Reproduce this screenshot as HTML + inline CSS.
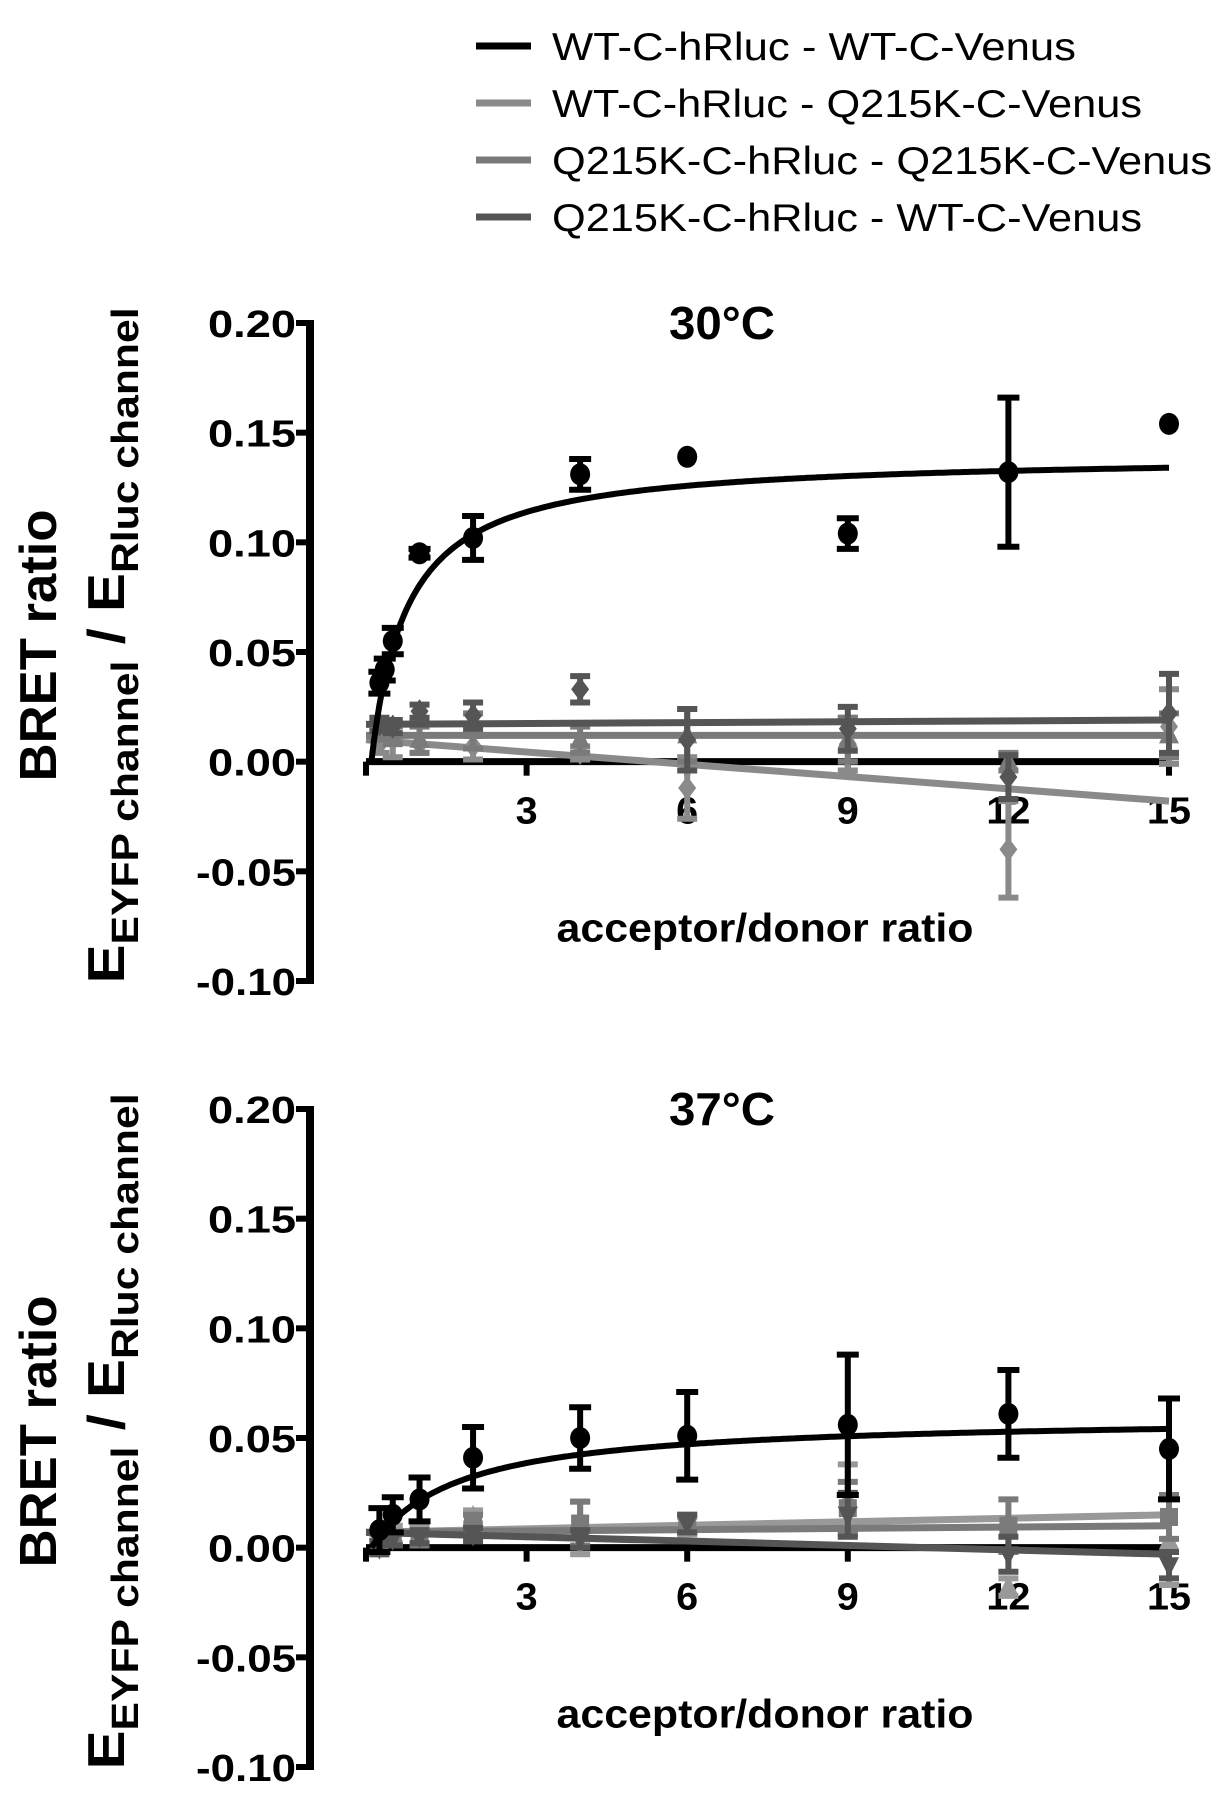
<!DOCTYPE html>
<html><head><meta charset="utf-8"><style>
html,body{margin:0;padding:0;background:#fff;}
svg{display:block;font-family:"Liberation Sans",Arial,sans-serif;}
</style></head><body>
<svg id="fig" width="1225" height="1808" viewBox="0 0 1225 1808">
<g font-size="39" fill="#000">
 <g><line x1="476" y1="46" x2="531" y2="46" stroke="#000" stroke-width="7"/><text x="552" y="60" textLength="524" lengthAdjust="spacingAndGlyphs">WT-C-hRluc - WT-C-Venus</text></g>
 <g><line x1="476" y1="103" x2="531" y2="103" stroke="#8a8a8a" stroke-width="7"/><text x="552" y="117" textLength="590" lengthAdjust="spacingAndGlyphs">WT-C-hRluc - Q215K-C-Venus</text></g>
 <g><line x1="476" y1="160" x2="531" y2="160" stroke="#7a7a7a" stroke-width="7"/><text x="552" y="174" textLength="660" lengthAdjust="spacingAndGlyphs">Q215K-C-hRluc - Q215K-C-Venus</text></g>
 <g><line x1="476" y1="217" x2="531" y2="217" stroke="#555" stroke-width="7"/><text x="552" y="231" textLength="590" lengthAdjust="spacingAndGlyphs">Q215K-C-hRluc - WT-C-Venus</text></g>
</g>
</svg>
<script>
// ---- data ----
const xTicks = [3, 6, 9, 12, 15];
const yTicks = [0.20, 0.15, 0.10, 0.05, 0.00, -0.05, -0.10];
const yTickLabels = ["0.20", "0.15", "0.10", "0.05", "0.00", "-0.05", "-0.10"];
const panelTitles = ["30°C", "37°C"];
// 30°C
const wt30X = [0.25, 0.35, 0.5, 1, 2, 4, 6, 9, 12, 15];
const wt30Y = [0.036, 0.042, 0.055, 0.095, 0.102, 0.131, 0.139, 0.104, 0.132, 0.154];
const wt30Err = [0.005, 0.005, 0.006, 0.002, 0.010, 0.007, 0.000, 0.007, 0.034, 0.000];
const wt30Fit = [0.140, 0.667]; // Bmax, Kd
const oth30X = [0.25, 0.5, 1, 2, 4, 6, 9, 12, 15];
const a30Y = [0.008, 0.010, 0.008, 0.007, 0.004, -0.012, 0.008, -0.040, 0.016];
const a30Err = [0.004, 0.008, 0.004, 0.006, 0.003, 0.014, 0.012, 0.022, 0.017];
const b30Y = [0.014, 0.012, 0.010, 0.014, 0.010, 0.012, 0.010, 0.000, 0.012];
const b30Err = [0.004, 0.004, 0.006, 0.008, 0.006, 0.012, 0.010, 0.004, 0.010];
const c30Y = [0.017, 0.016, 0.023, 0.021, 0.033, 0.010, 0.015, -0.007, 0.022];
const c30Err = [0.003, 0.003, 0.003, 0.006, 0.006, 0.014, 0.010, 0.010, 0.018];
const a30Line = [0.010, -0.018];
const b30Line = [0.012, 0.012];
const c30Line = [0.017, 0.019];
// 37°C
const wt37X = [0.25, 0.5, 1, 2, 4, 6, 9, 12, 15];
const wt37Y = [0.008, 0.015, 0.022, 0.041, 0.050, 0.051, 0.056, 0.061, 0.045];
const wt37Err = [0.010, 0.008, 0.010, 0.014, 0.014, 0.020, 0.032, 0.020, 0.023];
const wt37Fit = [0.060, 1.61];
const oth37X = [0.25, 0.5, 1, 2, 4, 6, 9, 12, 15];
const a37Y = [0.002, 0.006, 0.006, 0.014, 0.009, 0.010, 0.022, -0.018, 0.003];
const a37Err = [0.004, 0.004, 0.004, 0.003, 0.012, 0.004, 0.016, 0.004, 0.020];
const b37Y = [0.000, 0.004, 0.004, 0.012, 0.011, 0.011, 0.018, 0.010, 0.014];
const b37Err = [0.003, 0.003, 0.003, 0.003, 0.010, 0.004, 0.012, 0.012, 0.010];
const c37Y = [0.000, 0.004, 0.005, 0.006, 0.004, 0.011, 0.015, -0.003, -0.008];
const c37Err = [0.003, 0.003, 0.003, 0.003, 0.004, 0.004, 0.010, 0.008, 0.006];
const a37Line = [0.007, 0.015];
const b37Line = [0.007, 0.010];
const c37Line = [0.007, -0.003];

const NS = "http://www.w3.org/2000/svg";
const svg = document.getElementById("fig");
function mk(tag, attrs, parent) {
  const e = document.createElementNS(NS, tag);
  for (const k in attrs) e.setAttribute(k, attrs[k]);
  (parent || svg).appendChild(e);
  return e;
}

function panel(idx, top, bottom, data) {
  const g = mk("g", {});
  
  
  const axX = 310, x0 = 366, x15 = 1169;
  const X = v => x0 + (x15 - x0) * v / 15;
  const Y = v => top + (bottom - top) * (0.20 - v) / 0.30;
  const ya = mk("g", {}, g);
  
  
  mk("line", {x1: axX, y1: Y(0.20) - 3, x2: axX, y2: Y(-0.10) + 3, stroke: "#000", "stroke-width": 8}, ya);
  yTicks.forEach((t, i) => {
    mk("line", {x1: axX - 14, y1: Y(t), x2: axX, y2: Y(t), stroke: "#000", "stroke-width": 6}, ya);
    const lbl = yTickLabels[i];
    const tx = mk("text", {x: axX - 14, y: Y(t) + 14, "text-anchor": "end", "font-size": 38, "font-weight": "bold", textLength: lbl.length === 4 ? 88 : 100, lengthAdjust: "spacingAndGlyphs"}, ya);
    tx.textContent = lbl;
    
    
  });
  const xa = mk("g", {}, g);
  
  
  mk("line", {x1: X(0), y1: Y(0), x2: X(15), y2: Y(0), stroke: "#000", "stroke-width": 7}, xa);
  mk("line", {x1: X(0), y1: Y(0), x2: X(0), y2: Y(0) + 14, stroke: "#000", "stroke-width": 6}, xa);
  xTicks.forEach(t => {
    mk("line", {x1: X(t), y1: Y(0), x2: X(t), y2: Y(0) + 14, stroke: "#000", "stroke-width": 6}, xa);
    const tx = mk("text", {x: X(t), y: Y(0) + 62, "text-anchor": "middle", "font-size": 38, "font-weight": "bold", textLength: t < 10 ? 22 : 44, lengthAdjust: "spacingAndGlyphs"}, xa);
    tx.textContent = t;
    
    
  });
  const xt = mk("text", {x: 765, y: Y(-0.05) + 70, "text-anchor": "middle", "font-size": 40, "font-weight": "bold", textLength: 417, lengthAdjust: "spacingAndGlyphs"}, g);
  xt.textContent = "acceptor/donor ratio";
  
  
  const tt = mk("text", {x: 722, y: top + 16, "text-anchor": "middle", "font-size": 46, "font-weight": "bold", textLength: 106, lengthAdjust: "spacingAndGlyphs"}, g);
  tt.textContent = panelTitles[idx];
  
  
  const cy = top + (bottom - top) * 0.49;
  const yt1 = mk("text", {x: 0, y: 0, transform: `translate(56,${cy}) rotate(-90)`, "text-anchor": "middle", "font-size": 52, "font-weight": "bold", textLength: 272, lengthAdjust: "spacingAndGlyphs"}, g);
  yt1.textContent = "BRET ratio";
  
  
  const yt2 = mk("text", {x: 0, y: 0, transform: `translate(124,${cy}) rotate(-90)`, "text-anchor": "middle", "font-size": 52, "font-weight": "bold", textLength: 676, lengthAdjust: "spacingAndGlyphs"}, g);
  yt2.innerHTML = 'E<tspan font-size="38" dy="14">EYFP channel</tspan><tspan dy="-14"> / E</tspan><tspan font-size="38" dy="14">Rluc channel</tspan>';
  
  

  data.others.forEach(s => {
    const sg = mk("g", {}, g);
    
    
    mk("line", {x1: X(0), y1: Y(s.line[0]), x2: X(15), y2: Y(s.line[1]), stroke: s.color, "stroke-width": 7}, sg);
    s.xs.forEach((xv, i) => {
      const px = X(xv), py = Y(s.ys[i]), e = s.err[i];
      const eb = mk("path", {d: `M${px},${Y(s.ys[i]+e)}V${Y(s.ys[i]-e)}M${px-10},${Y(s.ys[i]+e)}h20M${px-10},${Y(s.ys[i]-e)}h20`, stroke: s.color, "stroke-width": 6, fill: "none"}, sg);
      
      
      let m;
      if (s.shape === "diamond") m = mk("path", {d: `M${px},${py-12}L${px+9},${py}L${px},${py+12}L${px-9},${py}Z`, fill: s.color}, sg);
      else if (s.shape === "tri") m = mk("path", {d: `M${px},${py-12}L${px+10},${py+8}L${px-10},${py+8}Z`, fill: s.color}, sg);
      else if (s.shape === "tridown") m = mk("path", {d: `M${px},${py+12}L${px+10},${py-8}L${px-10},${py-8}Z`, fill: s.color}, sg);
      else m = mk("rect", {x: px - 9, y: py - 9, width: 18, height: 18, fill: s.color}, sg);
      
      
    });
  });
  const w = data.wt;
  const wg = mk("g", {}, g);
  
  
  let d = "";
  for (let k = 0; k <= 300; k++) {
    const xv = 0.1 + (15 - 0.1) * k / 300;
    const yv = w.fit[0] * (xv - 0.1) / (w.fit[1] + xv - 0.1);
    d += (k ? "L" : "M") + X(xv).toFixed(1) + "," + Y(yv).toFixed(1);
  }
  const fl = mk("path", {d: d, stroke: "#000", "stroke-width": 6, fill: "none"}, wg);
  
  
  w.xs.forEach((xv, i) => {
    const px = X(xv), e = w.err[i];
    if (e > 0) {
      const eb = mk("path", {d: `M${px},${Y(w.ys[i]+e)}V${Y(w.ys[i]-e)}M${px-11},${Y(w.ys[i]+e)}h22M${px-11},${Y(w.ys[i]-e)}h22`, stroke: "#000", "stroke-width": 6, fill: "none"}, wg);
      
      
    }
    const c = mk("ellipse", {cx: px, cy: Y(w.ys[i]), rx: 10, ry: 11, fill: "#000"}, wg);
    
    
  });
}

panel(0, 323, 981, {
  wt: {xs: wt30X, ys: wt30Y, err: wt30Err, fit: wt30Fit},
  others: [
    {name: "series-wt-q215k", xs: oth30X, ys: a30Y, err: a30Err, line: a30Line, color: "#8a8a8a", shape: "diamond"},
    {name: "series-q215k-q215k", xs: oth30X, ys: b30Y, err: b30Err, line: b30Line, color: "#7a7a7a", shape: "tri"},
    {name: "series-q215k-wt", xs: oth30X, ys: c30Y, err: c30Err, line: c30Line, color: "#555", shape: "diamond"}
  ]
});
panel(1, 1109, 1767, {
  wt: {xs: wt37X, ys: wt37Y, err: wt37Err, fit: wt37Fit},
  others: [
    {name: "series-wt-q215k", xs: oth37X, ys: a37Y, err: a37Err, line: a37Line, color: "#999", shape: "tri"},
    {name: "series-q215k-q215k", xs: oth37X, ys: b37Y, err: b37Err, line: b37Line, color: "#7a7a7a", shape: "square"},
    {name: "series-q215k-wt", xs: oth37X, ys: c37Y, err: c37Err, line: c37Line, color: "#555", shape: "tridown"}
  ]
});
</script>
</body></html>
